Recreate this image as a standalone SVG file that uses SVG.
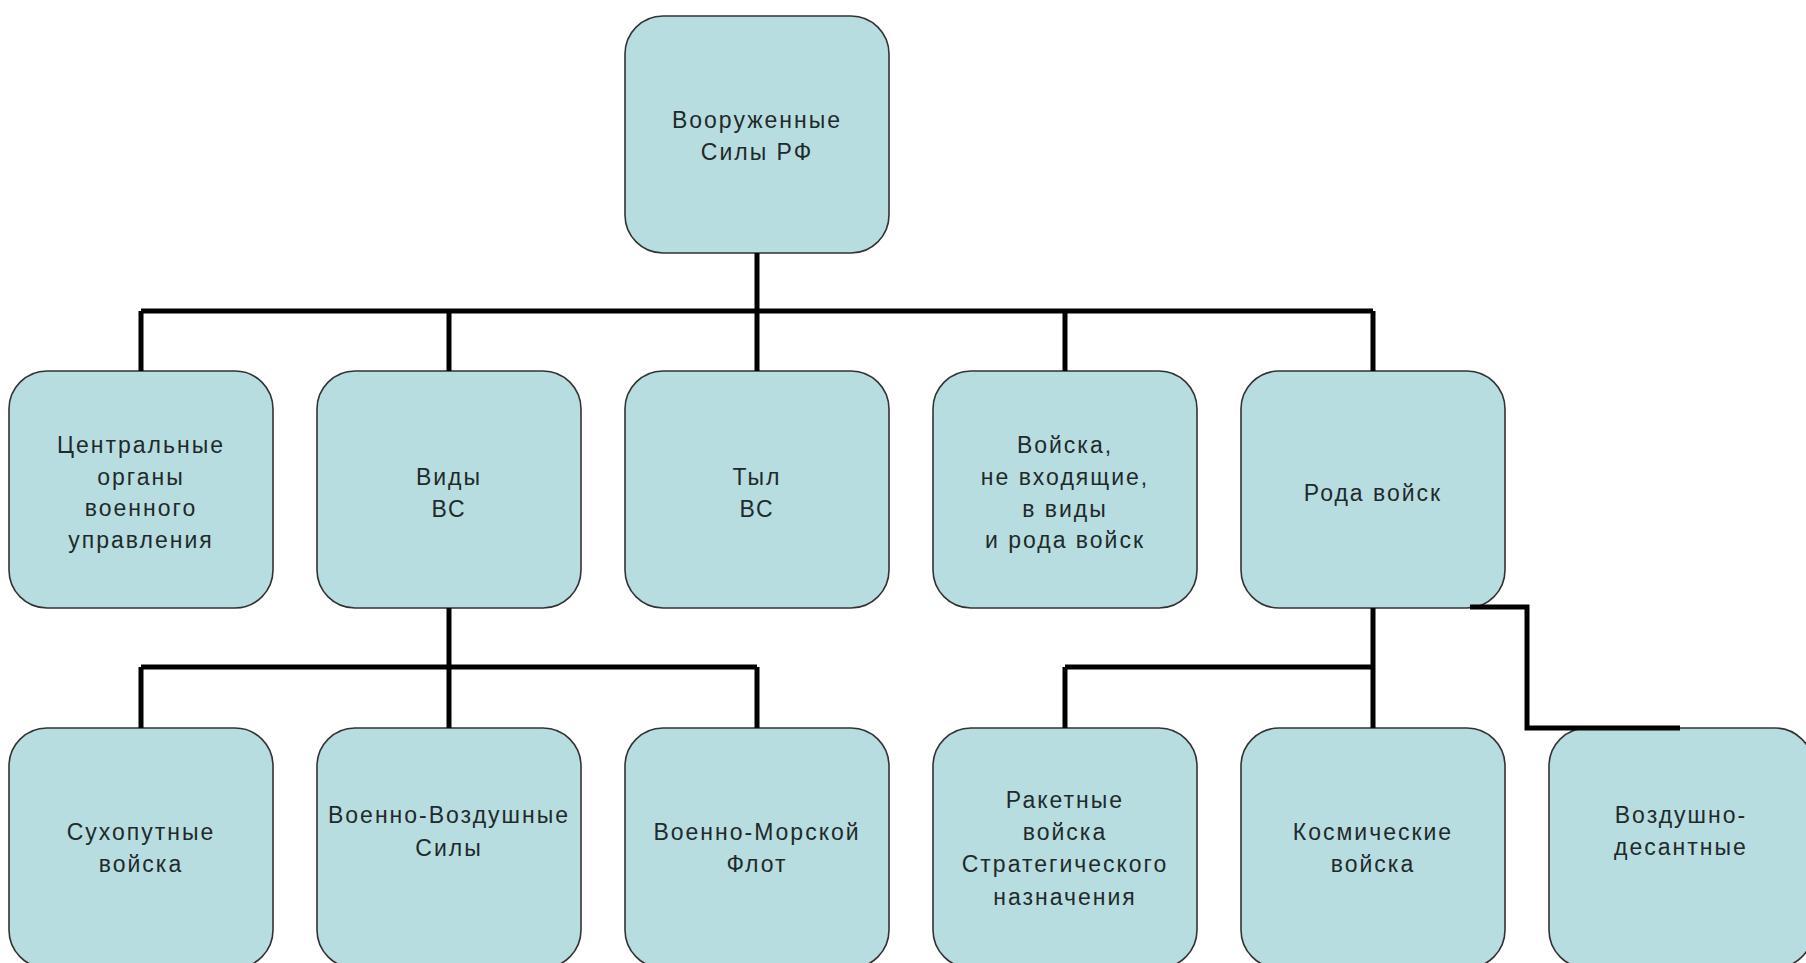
<svg xmlns="http://www.w3.org/2000/svg" width="1806" height="963" viewBox="0 0 1806 963">
<style>
.box{fill:#b8dde1;stroke:#333;stroke-width:1.6}
.t{font-family:"Liberation Sans",Arial,sans-serif;font-size:23px;letter-spacing:2px;fill:#1f2a2b;text-anchor:middle}
.c{fill:none;stroke:#000;stroke-width:5;stroke-linejoin:miter;stroke-linecap:butt}
</style>
<rect width="1806" height="963" fill="#fff"/>
<g id="n-root"><rect class="box" x="625" y="16" width="264" height="237" rx="38"/><text class="t" x="757" y="128">Вооруженные</text><text class="t" x="757" y="160">Силы РФ</text></g>
<g id="n-central"><rect class="box" x="9" y="371" width="264" height="237" rx="38"/><text class="t" x="141" y="453">Центральные</text><text class="t" x="141" y="485">органы</text><text class="t" x="141" y="516">военного</text><text class="t" x="141" y="548">управления</text></g>
<g id="n-vidy"><rect class="box" x="317" y="371" width="264" height="237" rx="38"/><text class="t" x="449" y="485">Виды</text><text class="t" x="449" y="517">ВС</text></g>
<g id="n-tyl"><rect class="box" x="625" y="371" width="264" height="237" rx="38"/><text class="t" x="757" y="485">Тыл</text><text class="t" x="757" y="517">ВС</text></g>
<g id="n-other"><rect class="box" x="933" y="371" width="264" height="237" rx="38"/><text class="t" x="1065" y="453">Войска,</text><text class="t" x="1065" y="485">не входящие,</text><text class="t" x="1065" y="517">в виды</text><text class="t" x="1065" y="548">и рода войск</text></g>
<g id="n-rody"><rect class="box" x="1241" y="371" width="264" height="237" rx="38"/><text class="t" x="1373" y="501">Рода войск</text></g>
<g id="n-sv"><rect class="box" x="9" y="728" width="264" height="240" rx="38"/><text class="t" x="141" y="840">Сухопутные</text><text class="t" x="141" y="872">войска</text></g>
<g id="n-vvs"><rect class="box" x="317" y="728" width="264" height="240" rx="38"/><text class="t" x="449" y="823">Военно-Воздушные</text><text class="t" x="449" y="856">Силы</text></g>
<g id="n-vmf"><rect class="box" x="625" y="728" width="264" height="240" rx="38"/><text class="t" x="757" y="840">Военно-Морской</text><text class="t" x="757" y="872">Флот</text></g>
<g id="n-rvsn"><rect class="box" x="933" y="728" width="264" height="240" rx="38"/><text class="t" x="1065" y="808">Ракетные</text><text class="t" x="1065" y="840">войска</text><text class="t" x="1065" y="872">Стратегического</text><text class="t" x="1065" y="905">назначения</text></g>
<g id="n-kv"><rect class="box" x="1241" y="728" width="264" height="240" rx="38"/><text class="t" x="1373" y="840">Космические</text><text class="t" x="1373" y="872">войска</text></g>
<g id="n-vdv"><rect class="box" x="1549" y="728" width="264" height="240" rx="38"/><text class="t" x="1681" y="823">Воздушно-</text><text class="t" x="1681" y="855">десантные</text></g>
<g id="connectors">
<path class="c" d="M757 253V311M141 311H1373M141 311V371M449 311V371M757 311V371M1065 311V371M1373 311V371"/>
<path class="c" d="M449 608V667M141 667H757M141 667V728M449 667V728M757 667V728"/>
<path class="c" d="M1373 608V728M1065 667H1373M1065 667V728"/>
<path class="c" d="M1470 607H1527V728H1680"/>
</g>
</svg>
